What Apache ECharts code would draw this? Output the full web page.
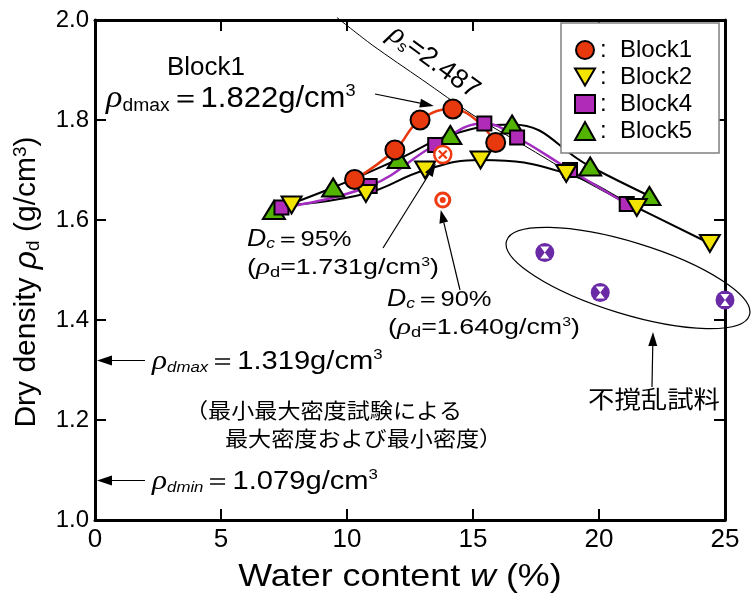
<!DOCTYPE html>
<html>
<head>
<meta charset="utf-8">
<script src="https://cdn.jsdelivr.net/npm/echarts@6/dist/echarts.min.js"></script>
<style>
html, body { margin: 0; padding: 0; background: #fff; }
#chart { width: 752px; height: 593px; }
</style>
</head>
<body>
<div id="chart"></div>
<script>
// Compaction test results: water content w (%) vs dry density (g/cm3)
const block1W = [10.3, 11.9, 12.9, 14.2, 15.9];
const block1D = [1.681, 1.740, 1.800, 1.822, 1.755];

const block2W = [7.8, 10.75, 13.1, 15.3, 18.7, 21.5, 24.4];
const block2D = [1.630, 1.653, 1.700, 1.720, 1.693, 1.625, 1.553];

const block4W = [7.4, 10.9, 13.5, 15.45, 16.75, 18.85, 21.1];
const block4D = [1.625, 1.668, 1.750, 1.793, 1.765, 1.700, 1.632];

const block5W = [7.1, 9.45, 12.05, 14.1, 16.55, 19.65, 22.0];
const block5D = [1.620, 1.665, 1.722, 1.770, 1.791, 1.707, 1.648];

// Undisturbed samples
const undisturbedW = [17.85, 20.05, 25.0];
const undisturbedD = [1.535, 1.455, 1.440];

// Degree of compaction points (Block1)
const dc95W = 13.8, dc95D = 1.731;
const dc90W = 13.8, dc90D = 1.640;
const block1Max = 1.822;

// Zero-air-void curve, rho_s = 2.487
const zavW = [9.6, 11, 13, 15, 17, 19, 21];
const zavD = [2.005, 1.95, 1.88, 1.81, 1.75, 1.69, 1.635];

// Minimum / maximum density test results
const rhoDmaxTest = 1.319;
const rhoDminTest = 1.079;

const xTicks = { min: 0, max: 25, interval: 5 };
const yTicks = { min: 1.0, max: 2.0, interval: 0.2 };

const pairs = (w, d) => w.map((x, i) => [x, d[i]]);

const RED = '#e8380d', YELLOW = '#f2e400', PURPLE = '#b02cb8', GREEN = '#52b400';
const UNDIST = '#6a2aa6', MARK_RED = '#f03a12';
const LAT = '"Liberation Sans", Arial, sans-serif';
const JP = '"Noto Sans CJK JP", sans-serif';
const INV_TRI = 'path://M0,0 L20,0 L10,17 Z';
const HOURGLASS = 'path://M0,0 L10,0 L5,6 L10,12 L0,12 L5,6 Z';
const CROSS = 'path://M0,0 L10,10 M10,0 L0,10';

const chart = echarts.init(document.getElementById('chart'), null, { renderer: 'canvas' });

const axisX = (pos, showLabel) => ({
  type: 'value', position: pos, min: xTicks.min, max: xTicks.max, interval: xTicks.interval,
  axisLine: { show: true, onZero: false, lineStyle: { color: '#000', width: 3 } },
  axisTick: { show: true, inside: true, length: 11, lineStyle: { color: '#000', width: 2 } },
  axisLabel: { show: showLabel, fontSize: 26, color: '#000', fontFamily: LAT, margin: 7,
               formatter: v => String(v) },
  splitLine: { show: false }
});
const axisY = (pos, showLabel) => ({
  type: 'value', position: pos, min: yTicks.min, max: yTicks.max, interval: yTicks.interval,
  axisLine: { show: true, onZero: false, lineStyle: { color: '#000', width: 3 } },
  axisTick: { show: true, inside: true, length: 11, lineStyle: { color: '#000', width: 2 } },
  axisLabel: { show: showLabel, fontSize: 24, color: '#000', fontFamily: LAT, margin: 6,
               formatter: v => v.toFixed(1) },
  splitLine: { show: false }
});

const curve = (name, w, d, color, width) => ({
  name: name, type: 'line', data: pairs(w, d), smooth: 0.45, showSymbol: false,
  symbol: 'none', lineStyle: { color: color, width: width }, z: 2, silent: true, clip: false
});
const dot = (data, symbol, size, style, z) => ({
  type: 'scatter', data: data, symbol: symbol, symbolSize: size,
  itemStyle: Object.assign({ opacity: 1 }, style), z: z, clip: false, silent: true
});
const marks = (name, w, d, symbol, size, color) => ({
  name: name, type: 'scatter', data: pairs(w, d), symbol: symbol, symbolSize: size,
  itemStyle: { color: color, borderColor: '#000', borderWidth: 2, opacity: 1 }, z: 4, clip: false
});

chart.setOption({
  animation: false,
  backgroundColor: '#fff',
  grid: { left: 95, right: 27, top: 20, bottom: 73, containLabel: false },
  xAxis: [axisX('bottom', true), axisX('top', false)],
  yAxis: [axisY('left', true), axisY('right', false)],
  legend: {
    data: [
      { name: 'Block1', icon: 'circle' },
      { name: 'Block2', icon: INV_TRI },
      { name: 'Block4', icon: 'rect' },
      { name: 'Block5', icon: 'triangle' }
    ],
    orient: 'vertical', left: 561, top: 23,
    itemWidth: 20, itemHeight: 18, itemGap: 3,
    padding: [15, 27, 10, 13],
    borderColor: '#808080', borderWidth: 1.5, backgroundColor: '#fff',
    formatter: ':  {name}',
    textStyle: { fontSize: 24, color: '#000', fontFamily: LAT },
    selectedMode: false, z: 10
  },
  series: [
    { name: 'zav', type: 'line', data: pairs(zavW, zavD), smooth: 0.3, symbol: 'none',
      lineStyle: { color: '#000', width: 1 }, z: 1, silent: true, clip: false },
    curve('c5', block5W, block5D, '#000', 2),
    curve('c2', block2W, block2D, '#000', 2),
    curve('c4', block4W, block4D, '#a22cc0', 2.5),
    curve('c1', block1W, block1D, RED, 2.5),
    marks('Block5', block5W, block5D, 'triangle', [22, 18], GREEN),
    marks('Block4', block4W, block4D, 'rect', 14, PURPLE),
    marks('Block2', block2W, block2D, INV_TRI, [20, 17], YELLOW),
    marks('Block1', block1W, block1D, 'circle', 19, RED),
    // undisturbed samples: purple disc with white hourglass
    dot(pairs(undisturbedW, undisturbedD), 'circle', 19, { color: UNDIST }, 5),
    dot(pairs(undisturbedW, undisturbedD), HOURGLASS, [9, 12], { color: '#fff' }, 6),
    // Dc = 95 % : crossed circle
    dot([[dc95W, dc95D]], 'circle', 17, { color: '#fff', borderColor: MARK_RED, borderWidth: 2.5 }, 5),
    dot([[dc95W, dc95D]], CROSS, 8, { color: 'none', borderColor: MARK_RED, borderWidth: 2.2 }, 6),
    // Dc = 90 % : double circle
    dot([[dc90W, dc90D]], 'circle', 17, { color: MARK_RED }, 5),
    dot([[dc90W, dc90D]], 'circle', 11, { color: '#fff' }, 6),
    dot([[dc90W, dc90D]], 'circle', 6, { color: MARK_RED }, 7)
  ]
});

// ---- annotations ----
const px = (w, d) => chart.convertToPixel({ gridIndex: 0 }, [w, d]);

function arrow(x1, y1, x2, y2, len, half, lw) {
  const a = Math.atan2(y2 - y1, x2 - x1);
  const bx = x2 - len * Math.cos(a), by = y2 - len * Math.sin(a);
  const ox = -Math.sin(a) * half, oy = Math.cos(a) * half;
  return [
    { type: 'line', shape: { x1: x1, y1: y1, x2: bx, y2: by }, style: { stroke: '#000', lineWidth: lw }, z: 20 },
    { type: 'polygon', shape: { points: [[x2, y2], [bx + ox, by + oy], [bx - ox, by - oy]] },
      style: { fill: '#000' }, z: 20 }
  ];
}

function label(x, y, text, rich, opts) {
  return Object.assign({
    type: 'text', x: x, y: y, z: 20,
    style: Object.assign({ text: text, rich: rich || {}, fill: '#000', font: '22px ' + LAT,
      align: 'left', verticalAlign: 'middle' }, (opts && opts.style) || {})
  }, (opts && opts.el) || {});
}

const rhoStyle = (size) => ({ fontSize: size, fontStyle: 'italic', fontFamily: '"Liberation Serif", serif', fill: '#000' });

const pMax = px(block1W[3], block1Max);
const p95 = px(dc95W, dc95D);
const p90 = px(dc90W, dc90D);
const yMaxTest = px(0, rhoDmaxTest)[1];
const yMinTest = px(0, rhoDminTest)[1];
const xAxisPx = px(0, 1)[0];

const graphics = [];

// axis titles
graphics.push(label(400, 577, 'Water content {i|w} (%)', {
  i: { fontSize: 32, fontStyle: 'italic', fontFamily: LAT }
}, { style: { font: '32px ' + LAT, align: 'center' }, el: { scaleX: 1.12 } }));

graphics.push(label(27, 282, 'Dry density {r|ρ}{s|d} (g/cm{p|3})', {
  r: Object.assign(rhoStyle(32), { fontFamily: LAT }),
  s: { fontSize: 19, fontFamily: LAT, verticalAlign: 'bottom', lineHeight: 28 },
  p: { fontSize: 19, fontFamily: LAT, verticalAlign: 'top', lineHeight: 28 }
}, { style: { font: '30px ' + LAT, align: 'center' }, el: { rotation: Math.PI / 2, originX: 0, originY: 0 } }));

// Block1 maximum dry density
graphics.push(label(167, 68, 'Block1', {}, { style: { font: '26px ' + LAT } }));
graphics.push(label(106, 99, '{r|ρ}{s|dmax}{n|＝1.822g/cm}{p|3}', {
  r: rhoStyle(32),
  s: { fontSize: 18, fontFamily: LAT, verticalAlign: 'bottom', lineHeight: 26 },
  n: { fontSize: 29, fontFamily: LAT },
  p: { fontSize: 17, fontFamily: LAT, verticalAlign: 'top', lineHeight: 30 }
}, { el: { scaleX: 1.07 } }));
graphics.push(...arrow(375, 94, pMax[0] - 19, pMax[1] - 3, 14, 4.5, 1.2));

// zero-air-void label
graphics.push(label(434, 62, '{r|ρ}{s|s}=2.487', {
  r: rhoStyle(30),
  s: { fontSize: 16, fontFamily: LAT, verticalAlign: 'bottom', lineHeight: 24 }
}, { style: { font: '27px ' + LAT, align: 'center' }, el: { rotation: -0.63 } }));

// degree of compaction notes
const dcRich = {
  d: { fontSize: 23, fontStyle: 'italic', fontFamily: LAT },
  c: { fontSize: 15, fontStyle: 'italic', fontFamily: LAT, verticalAlign: 'bottom', lineHeight: 22 },
  r: rhoStyle(24),
  s: { fontSize: 15, fontFamily: LAT, verticalAlign: 'bottom', lineHeight: 22 },
  p: { fontSize: 13, fontFamily: LAT, verticalAlign: 'top', lineHeight: 24 }
};
graphics.push(label(247, 240, '{d|D}{c|c}＝95%', dcRich, { el: { scaleX: 1.16 } }));
graphics.push(label(247, 268, '({r|ρ}{s|d}=1.731g/cm{p|3})', dcRich, { el: { scaleX: 1.22 } }));
graphics.push(label(387, 300, '{d|D}{c|c}＝90%', dcRich, { el: { scaleX: 1.16 } }));
graphics.push(label(388, 328, '({r|ρ}{s|d}=1.640g/cm{p|3})', dcRich, { el: { scaleX: 1.22 } }));
graphics.push(...arrow(383, 248, p95[0] - 7, p95[1] + 9, 13, 4.5, 1.2));
graphics.push(...arrow(460, 290, p90[0] - 2, p90[1] + 10, 13, 4.5, 1.2));

// undisturbed samples group
graphics.push({
  type: 'ellipse', x: 628, y: 278, rotation: -17 * Math.PI / 180, z: 20,
  shape: { cx: 0, cy: 0, rx: 127, ry: 36 },
  style: { fill: 'none', stroke: '#000', lineWidth: 1.2 }
});
graphics.push(...arrow(652, 387, 653, 332, 14, 4.5, 1.2));
graphics.push(label(654, 399, '不撹乱試料', {}, { style: { font: '24px ' + JP, align: 'center' }, el: { scaleX: 1.1 } }));

// minimum / maximum density test
const testRich = {
  r: rhoStyle(28),
  s: { fontSize: 15, fontStyle: 'italic', fontFamily: LAT, verticalAlign: 'bottom', lineHeight: 26 },
  n: { fontSize: 26, fontFamily: LAT },
  p: { fontSize: 15, fontFamily: LAT, verticalAlign: 'top', lineHeight: 28 }
};
graphics.push(label(152, yMaxTest + 1, '{r|ρ}{s|dmax}{n|＝1.319g/cm}{p|3}', testRich, { el: { scaleX: 1.12 } }));
graphics.push(label(152, yMinTest + 1, '{r|ρ}{s|dmin}{n|＝1.079g/cm}{p|3}', testRich, { el: { scaleX: 1.12 } }));
graphics.push(...arrow(145, yMaxTest, xAxisPx + 2, yMaxTest, 15, 5, 1.2));
graphics.push(...arrow(145, yMinTest, xAxisPx + 2, yMinTest, 15, 5, 1.2));
graphics.push(label(185, 410, '（最小最大密度試験による', {}, { style: { font: '21px ' + JP }, el: { scaleX: 1.1 } }));
graphics.push(label(225, 438, '最大密度および最小密度）', {}, { style: { font: '21px ' + JP }, el: { scaleX: 1.1 } }));

chart.setOption({ graphic: graphics });
</script>
</body>
</html>
